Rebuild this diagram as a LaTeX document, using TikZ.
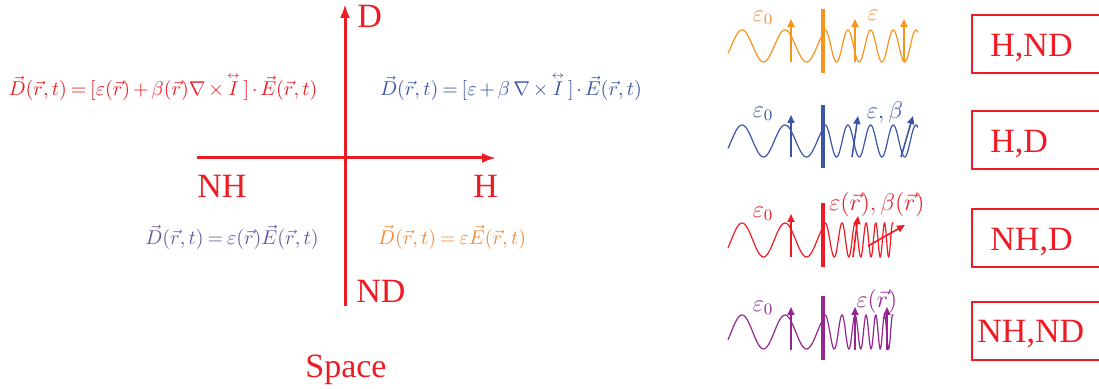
\documentclass[tikz,border=0pt]{standalone}
\usepackage{amsmath}
\usepackage{fontspec}
\setmainfont{Liberation Serif}
\usepackage{tikz}
\usetikzlibrary{arrows.meta}
\definecolor{rosso}{HTML}{ED1C24}
\definecolor{blu}{HTML}{3A56A5}
\definecolor{lilla}{HTML}{6A55A5}
\definecolor{arancio}{HTML}{F7893B}
\definecolor{giallo}{HTML}{F7941D}
\definecolor{porpora}{HTML}{93278F}
\newcommand{\tensI}{\overset{\scriptscriptstyle\leftrightarrow}{I}}
\newcommand{\strette}{\medmuskip=2.5mu\relax\thickmuskip=3.5mu\relax}

\begin{document}
\begin{tikzpicture}[x=0.5pt, y=-0.5pt,
  asse/.style={rosso, line width=1.5pt, -{Latex[length=7pt,width=5pt]}},
  etichetta/.style={rosso, font=\fontsize{17}{19}\selectfont, inner sep=0pt},
  formula/.style={font=\fontsize{9.8}{12}\selectfont\strette, inner sep=0pt},
  simbolo/.style={font=\fontsize{11.5}{13}\selectfont, inner sep=0pt},
  onda/.style={line width=0.6pt},
  barra/.style={line width=2pt},
  freccia/.style={line width=0.8pt, -{Triangle[length=4pt,width=3.5pt]}},
  casella/.style={rosso, line width=1pt}]
  \useasboundingbox (0,0) rectangle (1099,389);

  % Assi
  \coordinate (O) at (345,158);
  \coordinate (Dtop) at (345,4);
  \coordinate (NDbot) at (345,306);
  \coordinate (NHend) at (197,158);
  \coordinate (Hend) at (496,158);
  \draw[asse] (NDbot) -- (Dtop);
  \draw[asse] (NHend) -- (Hend);

  % Etichette assi
  \node[etichetta, anchor=base west] (lD) at (357,28) {D};
  \node[etichetta, anchor=base west] (lNH) at (197,198) {NH};
  \node[etichetta, anchor=base west] (lH) at (473,198) {H};
  \node[etichetta, anchor=base west] (lND) at (356,303) {ND};
  \node[etichetta, anchor=base west] (lSpace) at (305,378) {Space};

  % Relazioni costitutive
  \node[formula, rosso, anchor=base] (fNHD) at (163,96)
    {$\vec{D}(\vec{r},t)=[\varepsilon(\vec{r})+\beta(\vec{r})\nabla\times\tensI\,]\cdot\vec{E}(\vec{r},t)$};
  \node[formula, blu, anchor=base] (fHD) at (511,96)
    {$\vec{D}(\vec{r},t)=[\varepsilon+\beta\,\nabla\times\tensI\,]\cdot\vec{E}(\vec{r},t)$};
  \node[formula, lilla, anchor=base] (fNHND) at (232,245)
    {$\vec{D}(\vec{r},t)=\varepsilon(\vec{r})\vec{E}(\vec{r},t)$};
  \node[formula, arancio, anchor=base] (fHND) at (452,245)
    {$\vec{D}(\vec{r},t)=\varepsilon\vec{E}(\vec{r},t)$};

  % Onda H,ND
  \draw[giallo, onda] plot[domain=728:822, samples=80] (\x, {46-16*sin(360*((\x-731.25)/43))});
  \draw[giallo, onda] plot[domain=822:918, samples=120] (\x, {46-16*sin(360*(2.1105+(\x-822)/22.7))});
  \draw[giallo, barra] (823,9) -- (823,73);
  \draw[giallo, freccia] (791,62) -- (791,19);
  \draw[giallo, freccia] (855,62) -- (855,19);
  \draw[giallo, freccia] (904,62) -- (904,19);
  \node[simbolo, arancio] (e0a) at (763,18) {$\varepsilon_0$};
  \node[simbolo, arancio] (ea) at (873,15) {$\varepsilon$};

  % Onda H,D
  \draw[blu, onda] plot[domain=728:822, samples=80] (\x, {141-16*sin(360*((\x-731.25)/43))});
  \draw[blu, onda] plot[domain=822:918, samples=120] (\x, {141-16*sin(360*(2.1105+(\x-822)/22.7))});
  \draw[blu, barra] (823,105) -- (823,168);
  \draw[blu, freccia] (791,157) -- (791,115);
  \draw[blu, freccia] (852,157) -- (858,116);
  \draw[blu, freccia] (901,157) -- (913,116);
  \node[simbolo, blu] (e0b) at (763,114) {$\varepsilon_0$};
  \node[simbolo, blu] (eb) at (885,113) {$\varepsilon,\beta$};

  % Onda NH,D
  \draw[rosso, onda] plot[domain=728:822, samples=80] (\x, {240-17*sin(360*((\x-731.25)/43))});
  \draw[rosso, onda] plot[domain=822:893, samples=200] (\x, {240-17*sin(360*(2.1105+0.045*(\x-822)+0.0006*(\x-822)^2))});
  \draw[rosso, barra] (823,203) -- (823,267);
  \draw[rosso, freccia] (791,257) -- (791,214);
  \draw[rosso, freccia] (853,257) -- (858,216);
  \draw[rosso, freccia] (868,246) -- (905,225);
  \node[simbolo, rosso] (e0c) at (763,214) {$\varepsilon_0$};
  \node[simbolo, rosso] (ec) at (877,205) {$\varepsilon(\vec{r}),\beta(\vec{r})$};

  % Onda NH,ND
  \draw[porpora, onda] plot[domain=728:822, samples=80] (\x, {332-17*sin(360*((\x-731.25)/43))});
  \draw[porpora, onda] plot[domain=822:893, samples=200] (\x, {332-17*sin(360*(2.1105+0.045*(\x-822)+0.0006*(\x-822)^2))});
  \draw[porpora, barra] (823,296) -- (823,360);
  \draw[porpora, freccia] (791,350) -- (791,307);
  \draw[porpora, freccia] (855,350) -- (855,307);
  \draw[porpora, freccia] (887,350) -- (887,307);
  \node[simbolo, porpora] (e0d) at (763,308) {$\varepsilon_0$};
  \node[simbolo, porpora] (ed) at (877,302) {$\varepsilon(\vec{r})$};

  % Caselle
  \draw[casella] (972,15) rectangle (1110,73);
  \draw[casella] (972,111) rectangle (1110,169);
  \draw[casella] (972,209) rectangle (1110,267);
  \draw[casella] (972,302) rectangle (1110,360);
  \node[etichetta, anchor=base west] (cHND) at (990,57) {H,ND};
  \node[etichetta, anchor=base west] (cHD) at (990,153) {H,D};
  \node[etichetta, anchor=base west] (cNHD) at (990,251) {NH,D};
  \node[etichetta, anchor=base west] (cNHND) at (977,343) {NH,ND};
\end{tikzpicture}
\end{document}
